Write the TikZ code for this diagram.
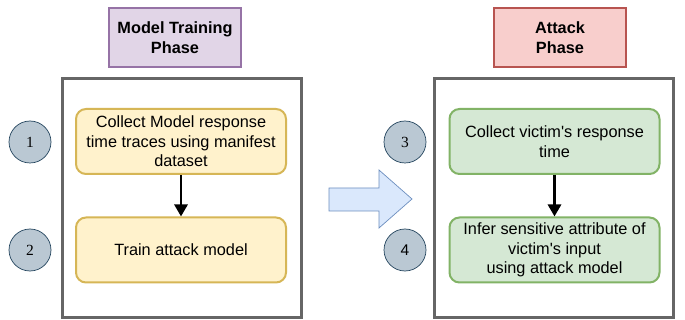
\documentclass[tikz,border=0pt]{standalone}
\usepackage{fontspec}
\setmainfont{Liberation Sans}
\newfontfamily\numserif{Liberation Serif}
\usetikzlibrary{arrows.meta}
\definecolor{purpfill}{HTML}{E1D5E7}
\definecolor{purpdraw}{HTML}{9673A6}
\definecolor{redfill}{HTML}{F8CECC}
\definecolor{reddraw}{HTML}{B85450}
\definecolor{yelfill}{HTML}{FFF2CC}
\definecolor{yeldraw}{HTML}{D6B656}
\definecolor{grnfill}{HTML}{D5E8D4}
\definecolor{grndraw}{HTML}{82B366}
\definecolor{blufill}{HTML}{DAE8FC}
\definecolor{bludraw}{HTML}{6C8EBF}
\definecolor{circfill}{HTML}{BAC8D3}
\definecolor{circdraw}{HTML}{23445D}
\definecolor{framedraw}{HTML}{666666}
\tikzset{
  titlebox/.style={draw, line width=2.2pt, minimum width=132pt, minimum height=59pt, align=center, font=\fontsize{16.3}{20}\selectfont\bfseries},
  phaseframe/.style={draw=framedraw, fill=white, line width=3pt, minimum width=239pt, minimum height=238pt},
  stepbox/.style={draw, line width=2pt, rounded corners=10pt, minimum width=210pt, minimum height=65pt, align=center, font=\fontsize{16.3}{19.5}\selectfont},
  numcirc/.style={circle, draw=circdraw, fill=circfill, line width=0.7pt, minimum size=42pt, inner sep=0pt, font=\fontsize{15.5}{18}\selectfont},
  flowarrow/.style={-{Triangle[length=12pt,width=13pt]}, line width=2.8pt, black},
  bigarrow/.style={draw=bludraw, fill=blufill, line width=0.7pt, line join=miter}
}
\begin{document}
\begin{tikzpicture}[x=1pt,y=-1pt]
\useasboundingbox (0,0) rectangle (685,320);
% titles
\node[titlebox, draw=purpdraw, fill=purpfill] (t1) at (175,37.5) {Model Training\\Phase};
\node[titlebox, draw=reddraw, fill=redfill] (t2) at (560,37.5) {Attack\\Phase};
% frames
\node[phaseframe] (f1) at (181.5,198) {};
\node[phaseframe] (f2) at (553.5,198) {};
% steps
\node[stepbox, draw=yeldraw, fill=yelfill] (s1) at (181,141.5) {Collect Model response\\time traces using manifest\\dataset};
\node[stepbox, draw=yeldraw, fill=yelfill] (s2) at (181,250) {Train attack model};
\node[stepbox, draw=grndraw, fill=grnfill] (s3) at (554.5,141.5) {Collect victim\textquotesingle s response\\time};
\node[stepbox, draw=grndraw, fill=grnfill] (s4) at (554.5,250) {Infer sensitive attribute of\\victim\textquotesingle s input\\using attack model};
% connectors
\draw[flowarrow] (s1) -- (s2);
\draw[flowarrow] (s3) -- (s4);
% numbers
\node[numcirc] (c1) at (30,142) {\numserif 1};
\node[numcirc] (c2) at (30,250) {\numserif 2};
\node[numcirc] (c3) at (405,142) {\numserif 3};
\node[numcirc] (c4) at (405,250) {4};
% big arrow
\draw[bigarrow] (329,188) -- (379,188) -- (379,170) -- (412,199) -- (379,228) -- (379,211) -- (329,211) -- cycle;
\end{tikzpicture}
\end{document}
